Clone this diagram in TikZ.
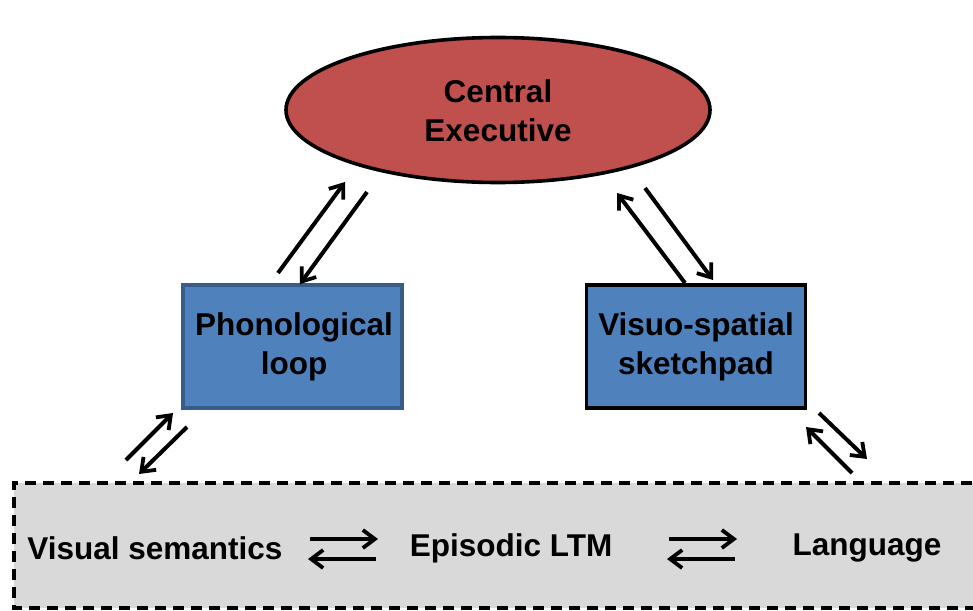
\documentclass[tikz,border=0pt]{standalone}
\usepackage{fontspec}
\setmainfont{Liberation Sans}
\usetikzlibrary{arrows.meta,shapes.geometric}
\definecolor{execred}{HTML}{C0504D}
\definecolor{slaveblue}{HTML}{4F81BD}
\definecolor{slaveedge}{HTML}{385D8A}
\definecolor{ltmgrey}{HTML}{D9D9D9}
\begin{document}
\begin{tikzpicture}[x=1pt,y=-1pt,
  lbl/.style={font=\fontsize{31.5}{39}\selectfont\bfseries, align=center, text=black},
  flow/.style={line width=4pt, -{Straight Barb[length=12pt,width=18pt,line width=3.8pt]}},
  slave/.style={draw, line width=3.2pt, fill=slaveblue, minimum width=219pt, minimum height=123pt, inner sep=0pt}]
\useasboundingbox (0,0) rectangle (973,610);
\begin{scope}
\clip (0,0) rectangle (973,610);
% long-term memory strip
\draw[line width=4pt, dash pattern=on 11pt off 7pt, fill=ltmgrey]
  (990,483) -- (14,483) -- (14,608) -- (990,608);
\end{scope}
% central executive
\node[ellipse, draw, line width=3.6pt, fill=execred, minimum width=424pt, minimum height=145pt, inner sep=0pt]
  (ce) at (498,110) {};
\node[lbl] (cet) at (498,111) {Central\\Executive};
% slave systems
\node[slave, draw=slaveedge] (pl) at (292.5,346.5) {};
\node[lbl] (plt) at (294,347) {Phonological\\loop};
\node[slave, draw=black] (vs) at (696,346.5) {};
\node[lbl] (vst) at (696,347) {Visuo-spatial\\sketchpad};
% LTM contents
\node[lbl] (vsem) at (155,548) {Visual semantics};
\node[lbl] (eltm) at (511,548) {Episodic LTM};
\node[lbl] (lang) at (867,548) {Language};
% connector end points
\coordinate (a1s) at (278,273); \coordinate (a1e) at (345,182);
\coordinate (a2s) at (367,192); \coordinate (a2e) at (300,284);
\coordinate (b1s) at (685,283); \coordinate (b1e) at (617,193);
\coordinate (b2s) at (645,188); \coordinate (b2e) at (713,280);
\coordinate (c1s) at (126,460); \coordinate (c1e) at (173,413);
\coordinate (c2s) at (187,427); \coordinate (c2e) at (139,474);
\coordinate (d1s) at (852,473); \coordinate (d1e) at (806,427);
\coordinate (d2s) at (819,413); \coordinate (d2e) at (867,459);
\coordinate (h1s) at (310,539); \coordinate (h1e) at (378,539);
\coordinate (h2s) at (376,559); \coordinate (h2e) at (308,559);
\coordinate (k1s) at (669,539); \coordinate (k1e) at (737,539);
\coordinate (k2s) at (735,559); \coordinate (k2e) at (667,559);
% arrows
\draw[flow] (a1s) -- (a1e);
\draw[flow] (a2s) -- (a2e);
\draw[flow] (b1s) -- (b1e);
\draw[flow] (b2s) -- (b2e);
\draw[flow] (c1s) -- (c1e);
\draw[flow] (c2s) -- (c2e);
\draw[flow] (d1s) -- (d1e);
\draw[flow] (d2s) -- (d2e);
\draw[flow] (h1s) -- (h1e);
\draw[flow] (h2s) -- (h2e);
\draw[flow] (k1s) -- (k1e);
\draw[flow] (k2s) -- (k2e);
\end{tikzpicture}
\end{document}
